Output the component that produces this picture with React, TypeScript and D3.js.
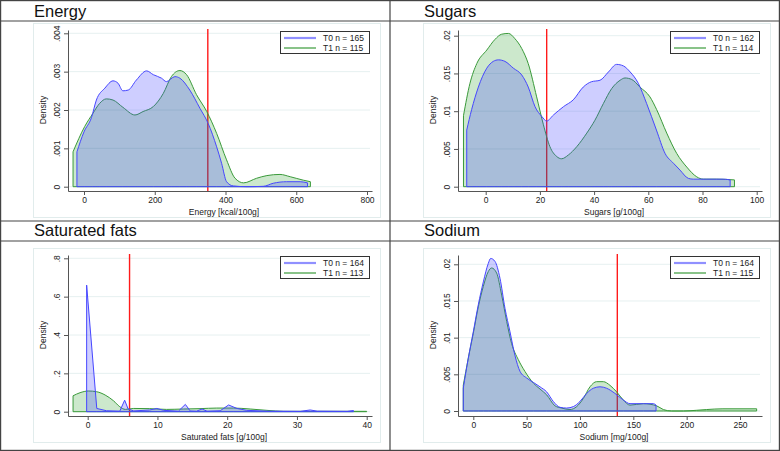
import React, { useEffect, useRef } from 'react';
import * as d3 from 'd3';

type Pt = [number, number];

// density estimates: [value, density]
const energyT0: Pt[] = [[-20, .00091], [0, .00143], [21, .0018], [35, .00226], [59, .00257], [82, .00276], [96, .0027], [110, .0025], [125, .00252], [148, .00278], [177, .00302], [196, .00292], [219, .00283], [233, .00274], [257, .00287], [271, .00283], [299, .00252], [328, .00204], [351, .00165], [375, .00104], [389, .00061], [403, .00013], [422, .00002], [460, 0], [507, .00001], [535, .00009], [573, .00013], [611, .00013], [632, .0001]];
const energyT1: Pt[] = [[-31, .00091], [2, .00157], [25, .00191], [44, .00217], [63, .00229], [82, .00226], [110, .00207], [144, .00187], [167, .00196], [196, .00209], [224, .00243], [247, .00287], [271, .00303], [290, .00292], [318, .0024], [347, .00196], [375, .00139], [403, .0007], [427, .00022], [451, .0001], [488, .00022], [517, .00029], [554, .00032], [583, .00026], [620, .00017], [640, .00013]];

const sugarsT0: Pt[] = [[-7, .0075], [-5.2, .0102], [-2.7, .0132], [0.4, .0157], [2.8, .0166], [4.7, .0168], [7.1, .0166], [10.2, .0157], [13.3, .0148], [15.7, .0132], [18.2, .0106], [20.7, .0093], [22.5, .0087], [25, .0095], [28.7, .0106], [32.3, .0115], [36, .0132], [39, .0139], [42.2, .0141], [45.3, .0152], [48.3, .0162], [50.8, .016], [53.3, .0152], [56.3, .0137], [59.4, .011], [63, .0075], [66.2, .0044], [69.3, .0031], [71.7, .0022], [74.8, .0011], [76.6, .001], [81.5, .001], [87.7, .001], [90.2, .0009]];
const sugarsT1: Pt[] = [[-8.2, .0094], [-5.8, .0137], [-3.3, .0163], [0.4, .0181], [3.4, .0195], [5.9, .0202], [8.4, .0203], [10.8, .0196], [13.3, .0183], [15.7, .0163], [18.8, .0119], [21.3, .0082], [23.7, .0053], [26.2, .004], [28, .0037], [30.5, .0042], [33.6, .0053], [37.3, .0071], [40.3, .0088], [43.4, .011], [46.5, .013], [49.6, .0141], [51.4, .0144], [53.9, .0142], [56.9, .0132], [60.6, .0119], [63.1, .0102], [66.8, .0071], [70.5, .0044], [74.2, .0026], [77.9, .0013], [80.3, .001], [85.2, .001], [91.8, .0009]];

const satT0: Pt[] = [[-0.15, .66], [1.3, .017], [2.7, .005], [4.6, .003], [5.3, .06], [5.8, .014], [6.6, .004], [8.9, .009], [9.9, .017], [10.9, .007], [13, .003], [14, .038], [14.7, .004], [15.6, .003], [16.4, .014], [17.1, .003], [19, .005], [20.2, .035], [21.4, .017], [22.8, .007], [25.7, .003], [30.5, .002], [31.9, .009], [32.9, .003], [37.2, .002], [38.1, .006]];
const satT1: Pt[] = [[-2.1, .083], [-1.1, .099], [0.1, .108], [1.3, .104], [2.5, .087], [3.7, .057], [4.6, .026], [5.4, .012], [6.6, .017], [8.9, .016], [11.3, .012], [13.7, .014], [16.1, .016], [18.5, .019], [20.9, .019], [23.3, .014], [25.7, .007], [28.1, .002], [32.9, .002], [40, .002]];

const sodiumT0: Pt[] = [[-9.4, .0031], [-4.7, .0072], [0, .0108], [4.7, .0145], [9.4, .0176], [14, .0201], [16.3, .0208], [20.3, .0204], [25, .0181], [29.7, .014], [34.4, .0108], [39, .0076], [43.8, .0054], [50, .0045], [56.3, .0039], [62.5, .0033], [68.8, .0026], [75, .0013], [81.3, .0005], [87.5, .0004], [93.8, .0006], [100, .0013], [106.3, .0024], [112.5, .0031], [118.8, .0033], [125, .0031], [132.8, .0024], [140.6, .0015], [146.9, .001], [159.4, .001], [168.8, .001], [171.3, .0008]];
const sodiumT1: Pt[] = [[-9.4, .0035], [-4.7, .0072], [0, .0106], [4.7, .0142], [9.4, .017], [14, .019], [17.2, .0195], [21.9, .0188], [26.6, .0158], [31.3, .0122], [35.9, .0092], [42.2, .007], [48.4, .0054], [56.3, .0038], [62.5, .003], [68.8, .0022], [76.6, .0007], [82.8, .0004], [90.6, .0002], [96.9, .0006], [103.1, .0017], [109.4, .0033], [115.6, .004], [121.9, .004], [128.1, .0035], [134.4, .0026], [140.6, .0015], [146.9, .0008], [159.4, .001], [171.9, .0007], [178.1, .0002], [185.9, 0], [196.9, 0], [209.4, .0001], [218.8, .0002], [234, .0003], [265.6, .0003]];

const titles = ['Energy', 'Sugars', 'Saturated fats', 'Sodium'];
const xTitles = ['Energy [kcal/100g]', 'Sugars [g/100g]', 'Saturated fats [g/100g]', 'Sodium [mg/100g]'];
const nT0 = [165, 162, 164, 164];
const nT1 = [115, 114, 113, 115];
const cutoffs = [350, 22.5, 6, 135];

const energyXTicks = [0, 200, 400, 600, 800];
const sugarsXTicks = [0, 20, 40, 60, 80, 100];
const satXTicks = [0, 10, 20, 30, 40];
const sodiumXTicks = [0, 50, 100, 150, 200, 250];

const energyYTicks = [0, .001, .002, .003, .004];
const energyYLabels = ['0', '.001', '.002', '.003', '.004'];
const sugarsYTicks = [0, .005, .01, .015, .02];
const sugarsYLabels = ['0', '.005', '.01', '.015', '.02'];
const satYTicks = [0, .2, .4, .6, .8];
const satYLabels = ['0', '.2', '.4', '.6', '.8'];
const sodiumYTicks = [0, .005, .01, .015, .02];
const sodiumYLabels = ['0', '.005', '.01', '.015', '.02'];

const FONT = '"Liberation Sans", Arial, sans-serif';

const App = () => {
  const svgRef = useRef<SVGSVGElement>(null);

  useEffect(() => {
    const svg = d3.select(svgRef.current);
    svg.selectAll('*').remove();

    const panels = [
      { ox: 0, oy: 0, t0: energyT0, t1: energyT1, xt: energyXTicks, yt: energyYTicks, yl: energyYLabels, xa: [84, 367], ya: [186.7, 33.3], linear: false },
      { ox: 390, oy: 0, t0: sugarsT0, t1: sugarsT1, xt: sugarsXTicks, yt: sugarsYTicks, yl: sugarsYLabels, xa: [95.7, 366.7], ya: [186.7, 35.7], linear: false },
      { ox: 0, oy: 225, t0: satT0, t1: satT1, xt: satXTicks, yt: satYTicks, yl: satYLabels, xa: [87.7, 366.7], ya: [186.7, 33.3], linear: true },
      { ox: 390, oy: 225, t0: sodiumT0, t1: sodiumT1, xt: sodiumXTicks, yt: sodiumYTicks, yl: sodiumYLabels, xa: [83.3, 350], ya: [186, 39.3], linear: false },
    ];

    svg.append('rect').attr('width', 780).attr('height', 451).attr('fill', 'white');

    panels.forEach((p, i) => {
      const g = svg.append('g').attr('transform', `translate(${p.ox},${p.oy})`);

      g.append('rect')
        .attr('x', 33.5).attr('y', 23.5).attr('width', 347).attr('height', 194)
        .attr('fill', 'white').attr('stroke', '#e1ecec');

      const xt = p.xt;
      const base = d3.scaleLinear().domain([xt[0], xt[xt.length - 1]]).range(p.xa);
      const x = d3.scaleLinear().domain([base.invert(68), base.invert(372)]).range([68, 372]);
      const yt = p.yt;
      const ybase = d3.scaleLinear().domain([yt[0], yt[yt.length - 1]]).range(p.ya);
      const y = d3.scaleLinear().domain([ybase.invert(191), ybase.invert(30)]).range([191, 30]);

      // gridlines
      g.selectAll('.grid')
        .data(yt)
        .enter()
        .append('line')
        .attr('x1', 68).attr('x2', 370)
        .attr('y1', d => y(d)).attr('y2', d => y(d))
        .attr('stroke', '#e6f0f0');

      // cutoff, sits under the shaded areas
      g.append('line')
        .attr('x1', x(cutoffs[i])).attr('x2', x(cutoffs[i]))
        .attr('y1', 29).attr('y2', 191)
        .attr('stroke', '#ff1a1a')
        .attr('stroke-width', 1.4);

      const area = d3.area<Pt>()
        .x(d => x(d[0]))
        .y0(y(0))
        .y1(d => y(d[1]))
        .curve(d3.curveMonotoneX);
      const areaT0 = d3.area<Pt>()
        .x(d => x(d[0]))
        .y0(y(0))
        .y1(d => y(d[1]))
        .curve(p.linear ? d3.curveLinear : d3.curveMonotoneX);

      g.append('path')
        .attr('d', area(p.t1))
        .attr('fill', 'rgba(0,140,0,0.2)')
        .attr('stroke', '#3a9a3a')
        .attr('stroke-width', 1);

      g.append('path')
        .attr('d', areaT0(p.t0))
        .attr('fill', 'rgba(60,60,255,0.25)')
        .attr('stroke', '#4646ff')
        .attr('stroke-width', 1);

      const xAxis = g.append('g')
        .attr('transform', 'translate(0,191)')
        .call(d3.axisBottom(x).tickValues(xt).tickSize(4).tickSizeOuter(0).tickPadding(2).tickFormat(d => String(d)));
      const yAxis = g.append('g')
        .attr('transform', 'translate(68,0)')
        .call(d3.axisLeft(y).tickValues(yt).tickSize(4).tickSizeOuter(0).tickFormat((d, k) => p.yl[k]));

      [xAxis, yAxis].forEach(a => {
        a.select('.domain').attr('stroke', '#555');
        a.selectAll('.tick line').attr('stroke', '#555');
        a.selectAll('text')
          .attr('fill', '#222')
          .style('font-family', FONT)
          .style('font-size', '8.5px');
      });
      yAxis.selectAll('text')
        .attr('x', 0).attr('dy', 0)
        .attr('text-anchor', 'middle')
        .attr('transform', 'translate(-8,0) rotate(-90)');

      g.append('text')
        .attr('transform', 'translate(46,110) rotate(-90)')
        .attr('text-anchor', 'middle')
        .style('font-family', FONT)
        .style('font-size', '8.5px')
        .attr('fill', '#222')
        .text('Density');

      g.append('text')
        .attr('x', 224).attr('y', 215)
        .attr('text-anchor', 'middle')
        .style('font-family', FONT)
        .style('font-size', '8.5px')
        .attr('fill', '#222')
        .text(xTitles[i]);

      // legend
      const lg = g.append('g');
      lg.append('rect')
        .attr('x', 280.5).attr('y', 31.5).attr('width', 89).attr('height', 22)
        .attr('fill', 'white').attr('stroke', '#333');
      lg.append('line')
        .attr('x1', 284).attr('x2', 316).attr('y1', 38).attr('y2', 38)
        .attr('stroke', '#9090ff').attr('stroke-width', 2.2);
      lg.append('line')
        .attr('x1', 284).attr('x2', 316).attr('y1', 48).attr('y2', 48)
        .attr('stroke', '#3a9a3a').attr('stroke-width', 1.2);
      [`T0 n = ${nT0[i]}`, `T1 n = ${nT1[i]}`].forEach((s, k) => {
        lg.append('text')
          .attr('x', 323).attr('y', 41 + k * 10)
          .style('font-family', FONT)
          .style('font-size', '8.5px')
          .attr('fill', '#222')
          .text(s);
      });
    });

    // titles and frame lines
    titles.forEach((t, i) => {
      svg.append('text')
        .attr('x', 34 + (i % 2) * 390)
        .attr('y', i < 2 ? 17 : 236)
        .style('font-family', FONT)
        .style('font-size', '16.5px')
        .attr('fill', '#111')
        .text(t);
    });

    const frame = svg.append('g').attr('stroke', '#444').attr('stroke-width', 1.2).attr('fill', 'none');
    frame.append('rect').attr('x', 0.6).attr('y', 0.6).attr('width', 778.8).attr('height', 449.8);
    frame.append('line').attr('x1', 390).attr('x2', 390).attr('y1', 0).attr('y2', 451);
    [21, 221, 241].forEach(yy => {
      frame.append('line').attr('x1', 0).attr('x2', 780).attr('y1', yy).attr('y2', yy);
    });
  }, []);

  return (
    <svg ref={svgRef} width={780} height={451}
      style={{ position: 'absolute', left: 0, top: 0, display: 'block' }} />
  );
};

export default App;
